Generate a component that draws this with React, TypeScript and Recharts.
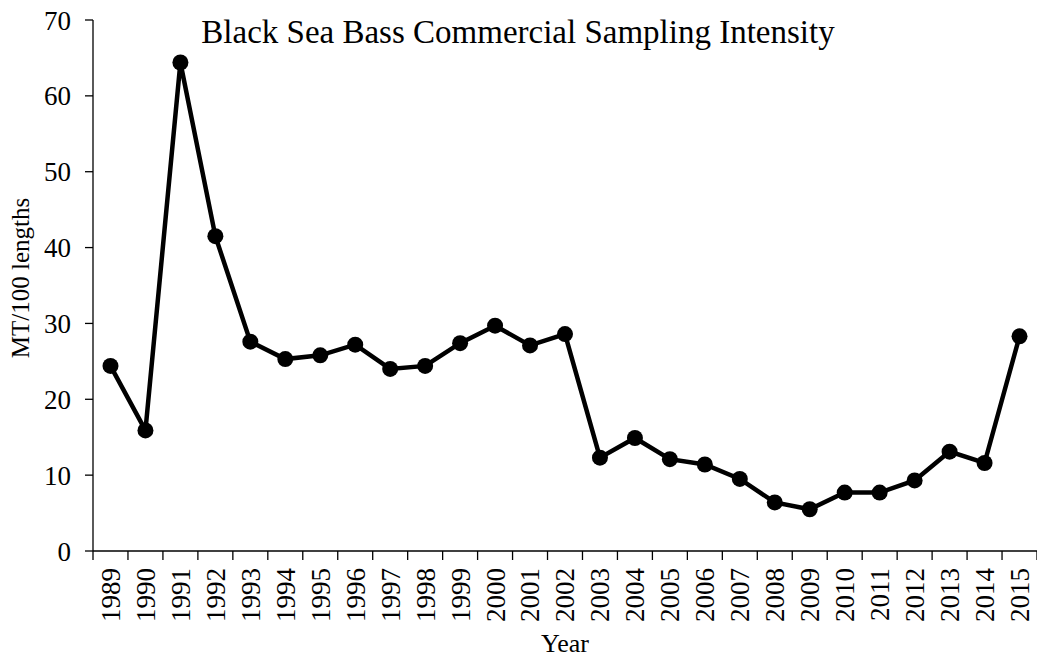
import React from "react";
import { LineChart, Line, XAxis, YAxis } from "recharts";

const years = [
  "1989", "1990", "1991", "1992", "1993", "1994", "1995", "1996", "1997",
  "1998", "1999", "2000", "2001", "2002", "2003", "2004", "2005", "2006",
  "2007", "2008", "2009", "2010", "2011", "2012", "2013", "2014", "2015",
];

const mtPer100 = [
  24.4, 15.9, 64.4, 41.5, 27.6, 25.3, 25.8, 27.2, 24.0,
  24.4, 27.4, 29.7, 27.1, 28.6, 12.3, 14.9, 12.1, 11.4,
  9.5, 6.4, 5.5, 7.7, 7.7, 9.3, 13.1, 11.6, 28.3,
];

const yTicks = [0, 10, 20, 30, 40, 50, 60, 70];

const W = 1037;
const H = 661;
const AXIS_W = 93;
const FONT = "'Liberation Serif', 'Times New Roman', serif";
const BAND = (W - AXIS_W) / years.length;

const data = years.map((year, i) => ({ year, value: mtPer100[i] }));

// year labels sit under each point, tick marks go between the years
function YearTick(props: any) {
  const { x, y, payload, index } = props;
  const axisY = y - 17;
  const last = index === years.length - 1;
  return (
    <g>
      <line x1={x - BAND / 2} x2={x - BAND / 2} y1={axisY} y2={axisY + 9} stroke="#000" strokeWidth={1.3} />
      {last && (
        <line x1={x + BAND / 2} x2={x + BAND / 2} y1={axisY} y2={axisY + 9} stroke="#000" strokeWidth={1.3} />
      )}
      <text
        transform={`translate(${x},${y}) rotate(-90)`}
        textAnchor="end"
        dy="0.35em"
        fontFamily={FONT}
        fontSize={27}
        fill="#000"
      >
        {payload.value}
      </text>
    </g>
  );
}

export default function App() {
  return (
    <div style={{ position: "absolute", left: 0, top: 0, width: W, height: H, background: "#fff" }}>
      <LineChart width={W} height={H} data={data} margin={{ top: 20, right: 0, bottom: 0, left: 0 }}>
        <XAxis
          dataKey="year"
          scale="band"
          interval={0}
          height={110}
          tickLine={false}
          tickSize={9}
          tickMargin={8}
          axisLine={{ stroke: "#000", strokeWidth: 1.3 }}
          tick={<YearTick />}
        />
        <YAxis
          width={AXIS_W}
          domain={[0, 70]}
          ticks={yTicks}
          tickSize={8}
          tickMargin={14}
          tickLine={{ stroke: "#000", strokeWidth: 1.3 }}
          axisLine={{ stroke: "#000", strokeWidth: 1.3 }}
          tick={{ fill: "#000", fontSize: 27, fontFamily: FONT }}
        />
        <Line
          type="linear"
          dataKey="value"
          stroke="#000"
          strokeWidth={4.5}
          dot={{ r: 8, fill: "#000", stroke: "#000", strokeWidth: 0 }}
          isAnimationActive={false}
        />
      </LineChart>
      <svg width={W} height={H} style={{ position: "absolute", left: 0, top: 0, pointerEvents: "none" }}>
        <text x={518} y={43} textAnchor="middle" fontFamily={FONT} fontSize={33} fill="#000">
          Black Sea Bass Commercial Sampling Intensity
        </text>
        <text
          transform="translate(29,278) rotate(-90)"
          textAnchor="middle"
          fontFamily={FONT}
          fontSize={25}
          fill="#000"
        >
          MT/100 lengths
        </text>
        <text x={565} y={652} textAnchor="middle" fontFamily={FONT} fontSize={26} fill="#000">
          Year
        </text>
      </svg>
    </div>
  );
}
